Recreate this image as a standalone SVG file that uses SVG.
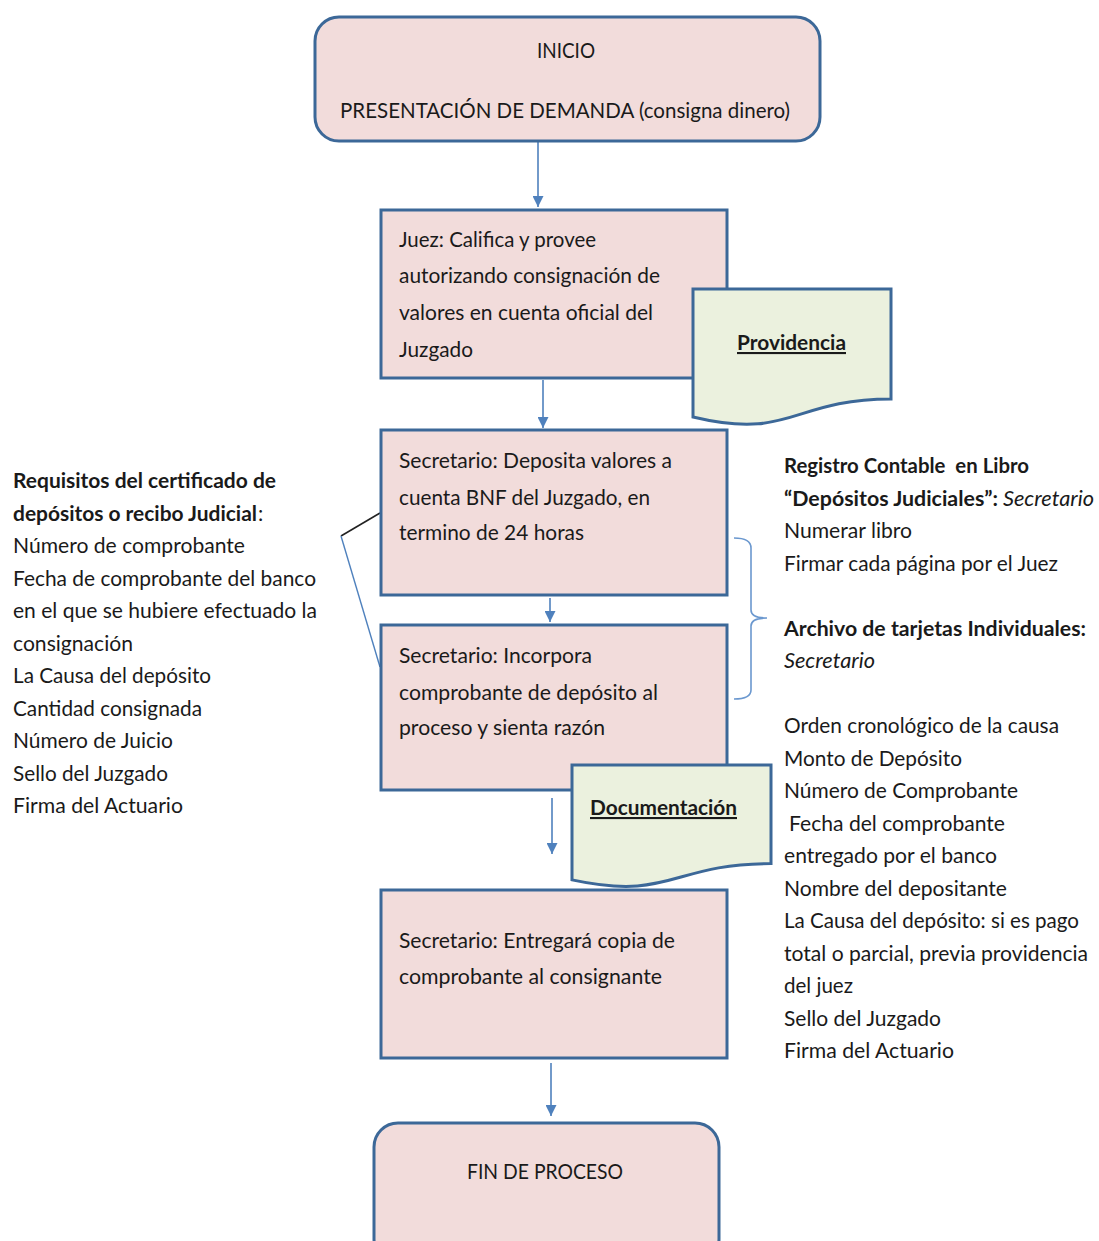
<svg xmlns="http://www.w3.org/2000/svg" width="1099" height="1241" viewBox="0 0 1099 1241">
<defs>
<style>
.box{fill:#f2dcdb;stroke:#3c6898;stroke-width:3}
.doc{fill:#ebf1de;stroke:#3c6898;stroke-width:3}
.t{font-family:Lato,'Liberation Sans',sans-serif;font-size:21px;fill:#1a1a1a}
.b{font-weight:bold}
.i{font-style:italic}
.u{text-decoration:underline}
.c{text-anchor:middle}
.ar{stroke:#4f81bd;stroke-width:1.6;fill:none}
.br{stroke:#6b98cf;stroke-width:1.6;fill:none}
</style>
<marker id="ah" markerUnits="userSpaceOnUse" markerWidth="11" markerHeight="11" refX="11" refY="5.5" orient="auto">
<path d="M0,0 L11,5.5 L0,11 Z" fill="#4f81bd"/>
</marker>
</defs>
<rect width="1099" height="1241" fill="#ffffff"/>

<g id="connectors">
<line class="ar" x1="538" y1="142" x2="538" y2="207" marker-end="url(#ah)"/>
<line class="ar" x1="543" y1="380" x2="543" y2="428" marker-end="url(#ah)"/>
<line class="ar" x1="550" y1="598" x2="550" y2="622" marker-end="url(#ah)"/>
<line class="ar" x1="552" y1="798" x2="552" y2="854" marker-end="url(#ah)"/>
<line class="ar" x1="551" y1="1063" x2="551" y2="1116" marker-end="url(#ah)"/>
<line x1="380" y1="513" x2="341" y2="536" stroke="#222222" stroke-width="1.6"/>
<line x1="341" y1="536" x2="380" y2="667" stroke="#4f81bd" stroke-width="1.4"/>
<path class="br" d="M734,538 Q751,538 751,548 V610 Q751,618 767,618 Q751,618 751,626 V690 Q751,699 734,699"/>
</g>

<g id="inicio">
<rect class="box" x="315" y="17" width="505" height="124" rx="24"/>
<text class="t c" x="566" y="58" textLength="58" lengthAdjust="spacingAndGlyphs">INICIO</text>
<text class="t" x="340" y="118" textLength="450" lengthAdjust="spacingAndGlyphs">PRESENTACIÓN DE DEMANDA (consigna dinero)</text>
</g>

<g id="juez">
<rect class="box" x="381" y="210" width="346" height="168"/>
<text class="t" x="399" y="247" textLength="197" lengthAdjust="spacingAndGlyphs">Juez: Califica y provee</text>
<text class="t" x="399" y="283" textLength="261" lengthAdjust="spacingAndGlyphs">autorizando consignación de</text>
<text class="t" x="399" y="320" textLength="254" lengthAdjust="spacingAndGlyphs">valores en cuenta oficial del</text>
<text class="t" x="399" y="357" textLength="74" lengthAdjust="spacingAndGlyphs">Juzgado</text>
</g>

<g id="providencia">
<path class="doc" d="M693,289 H891 V399 C792,399 792,440.7 693,417 Z"/>
<text class="t b u" x="737" y="350" textLength="109" lengthAdjust="spacingAndGlyphs">Providencia</text>
</g>

<g id="deposita">
<rect class="box" x="381" y="430" width="346" height="165"/>
<text class="t" x="399" y="468" textLength="273" lengthAdjust="spacingAndGlyphs">Secretario: Deposita valores a</text>
<text class="t" x="399" y="505" textLength="251" lengthAdjust="spacingAndGlyphs">cuenta BNF del Juzgado, en</text>
<text class="t" x="399" y="540" textLength="185" lengthAdjust="spacingAndGlyphs">termino de 24 horas</text>
</g>

<g id="incorpora">
<rect class="box" x="381" y="625" width="346" height="165"/>
<text class="t" x="399" y="663" textLength="193" lengthAdjust="spacingAndGlyphs">Secretario: Incorpora</text>
<text class="t" x="399" y="700" textLength="259" lengthAdjust="spacingAndGlyphs">comprobante de depósito al</text>
<text class="t" x="399" y="735" textLength="206" lengthAdjust="spacingAndGlyphs">proceso y sienta razón</text>
</g>

<g id="documentacion">
<path class="doc" d="M572,765 H771 V863.6 C671.5,863.6 671.5,901.2 572,879.9 Z"/>
<text class="t b u" x="590" y="815" textLength="147" lengthAdjust="spacingAndGlyphs">Documentación</text>
</g>

<g id="entrega">
<rect class="box" x="381" y="890" width="346" height="168"/>
<text class="t" x="399" y="948" textLength="276" lengthAdjust="spacingAndGlyphs">Secretario: Entregará copia de</text>
<text class="t" x="399" y="984" textLength="263" lengthAdjust="spacingAndGlyphs">comprobante al consignante</text>
</g>

<g id="fin">
<rect class="box" x="374" y="1123" width="345" height="140" rx="24"/>
<text class="t c" x="545" y="1179" textLength="156" lengthAdjust="spacingAndGlyphs">FIN DE PROCESO</text>
</g>

<g id="requisitos">
<text class="t b" x="13" y="488" textLength="263" lengthAdjust="spacingAndGlyphs">Requisitos del certificado de</text>
<text class="t b" x="13" y="521" textLength="244" lengthAdjust="spacingAndGlyphs">depósitos o recibo Judicial</text>
<text class="t" x="258" y="521">:</text>
<text class="t" x="13" y="553" textLength="232" lengthAdjust="spacingAndGlyphs">Número de comprobante</text>
<text class="t" x="13" y="586" textLength="303" lengthAdjust="spacingAndGlyphs">Fecha de comprobante del banco</text>
<text class="t" x="13" y="618" textLength="304" lengthAdjust="spacingAndGlyphs">en el que se hubiere efectuado la</text>
<text class="t" x="13" y="651" textLength="120" lengthAdjust="spacingAndGlyphs">consignación</text>
<text class="t" x="13" y="683" textLength="198" lengthAdjust="spacingAndGlyphs">La Causa del depósito</text>
<text class="t" x="13" y="716" textLength="189" lengthAdjust="spacingAndGlyphs">Cantidad consignada</text>
<text class="t" x="13" y="748" textLength="160" lengthAdjust="spacingAndGlyphs">Número de Juicio</text>
<text class="t" x="13" y="781" textLength="155" lengthAdjust="spacingAndGlyphs">Sello del Juzgado</text>
<text class="t" x="13" y="813" textLength="170" lengthAdjust="spacingAndGlyphs">Firma del Actuario</text>
</g>

<g id="registro">
<text class="t b" x="784" y="473" textLength="245" lengthAdjust="spacingAndGlyphs" style="white-space:pre" xml:space="preserve">Registro Contable  en Libro</text>
<text class="t b" x="784" y="506" textLength="214" lengthAdjust="spacingAndGlyphs">“Depósitos Judiciales”:</text>
<text class="t i" x="1003" y="506" textLength="91" lengthAdjust="spacingAndGlyphs">Secretario</text>
<text class="t" x="784" y="538" textLength="128" lengthAdjust="spacingAndGlyphs">Numerar libro</text>
<text class="t" x="784" y="571" textLength="274" lengthAdjust="spacingAndGlyphs">Firmar cada página por el Juez</text>
<text class="t b" x="784" y="636" textLength="302" lengthAdjust="spacingAndGlyphs">Archivo de tarjetas Individuales:</text>
<text class="t i" x="784" y="668" textLength="91" lengthAdjust="spacingAndGlyphs">Secretario</text>
<text class="t" x="784" y="733" textLength="275" lengthAdjust="spacingAndGlyphs">Orden cronológico de la causa</text>
<text class="t" x="784" y="766" textLength="178" lengthAdjust="spacingAndGlyphs">Monto de Depósito</text>
<text class="t" x="784" y="798" textLength="234" lengthAdjust="spacingAndGlyphs">Número de Comprobante</text>
<text class="t" x="789" y="831" textLength="216" lengthAdjust="spacingAndGlyphs">Fecha del comprobante</text>
<text class="t" x="784" y="863" textLength="213" lengthAdjust="spacingAndGlyphs">entregado por el banco</text>
<text class="t" x="784" y="896" textLength="223" lengthAdjust="spacingAndGlyphs">Nombre del depositante</text>
<text class="t" x="784" y="928" textLength="295" lengthAdjust="spacingAndGlyphs">La Causa del depósito: si es pago</text>
<text class="t" x="784" y="961" textLength="304" lengthAdjust="spacingAndGlyphs">total o parcial, previa providencia</text>
<text class="t" x="784" y="993" textLength="69" lengthAdjust="spacingAndGlyphs">del juez</text>
<text class="t" x="784" y="1026" textLength="157" lengthAdjust="spacingAndGlyphs">Sello del Juzgado</text>
<text class="t" x="784" y="1058" textLength="170" lengthAdjust="spacingAndGlyphs">Firma del Actuario</text>
</g>
</svg>
